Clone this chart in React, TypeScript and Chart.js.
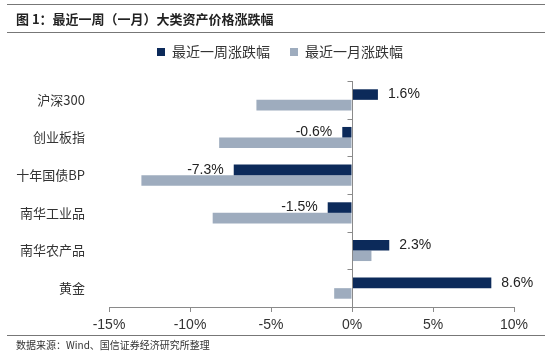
import React, { useEffect, useRef } from "react";
import { Chart, registerables } from "chart.js";
Chart.register(...registerables);

const titleText = "图 1：最近一周（一月）大类资产价格涨跌幅";
const sourceText = "数据来源：Wind、国信证券经济研究所整理";
const categories = ["沪深300", "创业板指", "十年国债BP", "南华工业品", "南华农产品", "黄金"];
const seriesNames = ["最近一周涨跌幅", "最近一月涨跌幅"];
const weekChange = [1.6, -0.6, -7.3, -1.5, 2.3, 8.6];
const monthChange = [-5.9, -8.2, -13.0, -8.6, 1.2, -1.1];
const xMin = -15;
const xMax = 10;
const xStep = 5;

const DARK = "#0c2a5a";
const LIGHT = "#9eacbe";
const AXIS = "#8a8a8a";
const TEXT = "#333333";

const legendTweak = {
  id: "legendTweak",
  afterInit(chart: any) {
    const lg = chart.legend;
    if (!lg) return;
    const orig = lg.fit;
    lg.fit = function () {
      orig.call(this);
      this.height += 12;
    };
  },
  afterLayout(chart: any) {
    const lg = chart.legend;
    if (!lg) return;
    lg.left += 23;
    lg.right += 23;
  },
};

const zeroAxisPlugin = {
  id: "zeroAxis",
  afterDatasetsDraw(chart: any) {
    const { ctx, scales } = chart;
    const xs = scales.x;
    const ys = scales.y;
    const x0 = Math.round(xs.getPixelForValue(0)) + 0.5;
    ctx.save();
    ctx.strokeStyle = AXIS;
    ctx.lineWidth = 1;
    ctx.beginPath();
    ctx.moveTo(x0, ys.top);
    ctx.lineTo(x0, ys.bottom);
    for (let i = 0; i < categories.length; i++) {
      const yb = Math.round(ys.getPixelForValue(i - 0.5)) + 0.5;
      ctx.moveTo(x0 - 5, yb);
      ctx.lineTo(x0, yb);
    }
    ctx.stroke();
    ctx.restore();
  },
};

const labelPlugin = {
  id: "weekLabels",
  afterDatasetsDraw(chart: any) {
    const { ctx } = chart;
    const meta = chart.getDatasetMeta(0);
    ctx.save();
    ctx.font = "14px 'Liberation Sans', Arial, sans-serif";
    ctx.fillStyle = "#222";
    ctx.textBaseline = "middle";
    meta.data.forEach((bar: any, i: number) => {
      const v = weekChange[i];
      const txt = v.toFixed(1) + "%";
      if (v >= 0) {
        ctx.textAlign = "left";
        ctx.fillText(txt, bar.x + 10, bar.y);
      } else {
        ctx.textAlign = "right";
        ctx.fillText(txt, bar.x - 10, bar.y);
      }
    });
    ctx.restore();
  },
};

function ChartBox() {
  const ref = useRef<HTMLCanvasElement>(null);
  useEffect(() => {
    if (!ref.current) return;
    const chart = new Chart(ref.current, {
      type: "bar",
      data: {
        labels: categories,
        datasets: [
          { label: seriesNames[0], data: weekChange, backgroundColor: DARK, categoryPercentage: 0.56, barPercentage: 1 },
          { label: seriesNames[1], data: monthChange, backgroundColor: LIGHT, categoryPercentage: 0.56, barPercentage: 1 },
        ],
      },
      options: {
        indexAxis: "y",
        animation: false,
        responsive: false,
        maintainAspectRatio: false,
        layout: { padding: { top: 25, left: 0, right: 36, bottom: 0 } },
        plugins: {
          legend: {
            position: "top",
            labels: {
              boxWidth: 8,
              boxHeight: 8,
              padding: 20,
              color: TEXT,
              font: { family: "'Noto Sans CJK SC', sans-serif", size: 14 },
            },
          },
          tooltip: { enabled: false },
        },
        scales: {
          x: {
            min: xMin,
            max: xMax,
            ticks: {
              stepSize: xStep,
              color: TEXT,
              font: { family: "'Liberation Sans', Arial, sans-serif", size: 14 },
              padding: 5,
              callback: (v: any) => v + "%",
            },
            grid: { drawOnChartArea: false, drawTicks: true, tickLength: 5, tickColor: AXIS },
            border: { display: true, color: AXIS },
            afterFit: (s: any) => { s.height = 48; },
          },
          y: {
            ticks: {
              color: TEXT,
              font: { family: "'Noto Sans CJK SC', sans-serif", size: 13 },
              padding: 16,
            },
            grid: { display: false },
            border: { display: false },
            afterFit: (s: any) => { s.width = 109; },
          },
        },
      },
      plugins: [legendTweak, zeroAxisPlugin, labelPlugin],
    } as any);
    return () => chart.destroy();
  }, []);
  return <canvas ref={ref} width={550} height={355} style={{ position: "absolute", left: 0, top: 0 }} />;
}

export default function App() {
  return (
    <div style={{ position: "fixed", left: 0, top: 0, width: 550, height: 355, background: "#fff", overflow: "hidden" }}>
      <ChartBox />
      <div style={{ position: "absolute", left: 7, right: 5, top: 4, height: 0, borderTop: "1px solid #777" }} />
      <div style={{ position: "absolute", left: 16, top: 9, fontFamily: "'Noto Sans CJK SC', sans-serif", fontWeight: 700, fontSize: 13, color: "#222", lineHeight: "20px", whiteSpace: "nowrap" }}>
        {titleText}
      </div>
      <div style={{ position: "absolute", left: 7, right: 5, top: 32, height: 0, borderTop: "1px solid #777" }} />
      <div style={{ position: "absolute", left: 7, right: 5, top: 335, height: 0, borderTop: "1px solid #777" }} />
      <div style={{ position: "absolute", left: 16, top: 338, fontFamily: "'Noto Sans CJK SC', sans-serif", fontSize: 10, color: "#333", lineHeight: "14px", whiteSpace: "nowrap" }}>
        {sourceText}
      </div>
    </div>
  );
}
